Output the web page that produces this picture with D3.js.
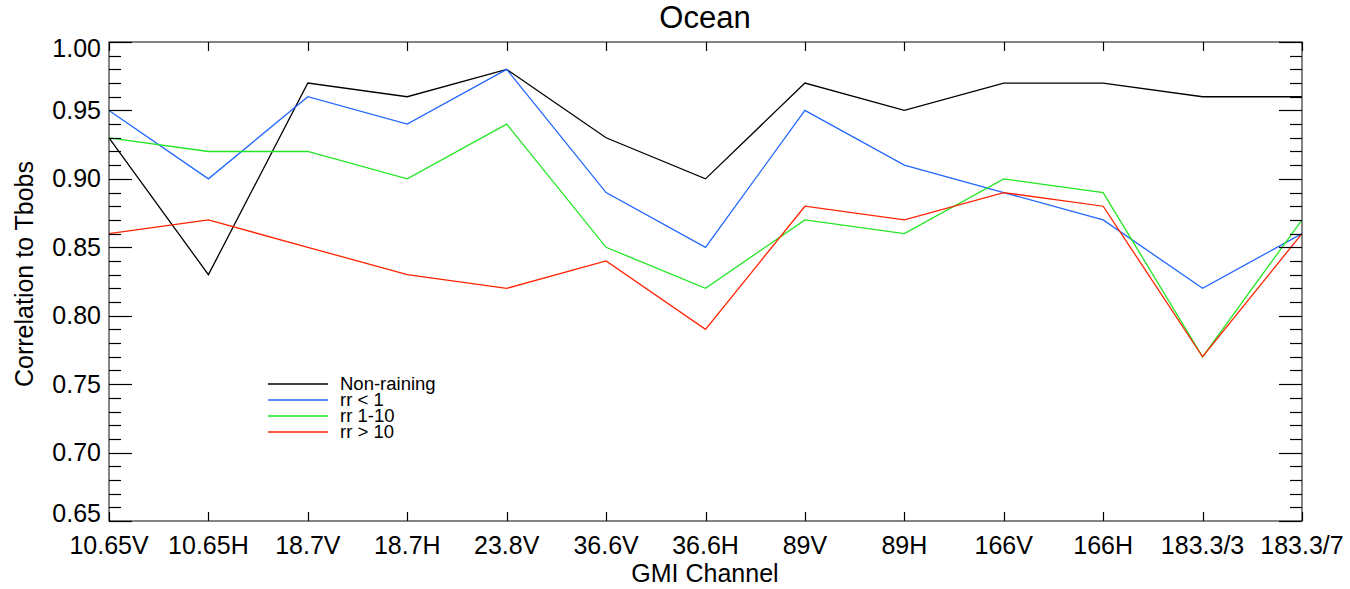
<!DOCTYPE html>
<html><head><meta charset="utf-8">
<script src="https://cdn.jsdelivr.net/npm/d3@7"></script>
<style>body{margin:0;background:#fff}svg{display:block}text{font-family:"Liberation Sans",Arial,sans-serif;fill:#000}</style>
</head><body><svg id="c" width="1350" height="589"></svg>
<script>
const categories = ["10.65V","10.65H","18.7V","18.7H","23.8V","36.6V","36.6H","89V","89H","166V","166H","183.3/3","183.3/7"];
const nonRaining = [0.93,0.83,0.97,0.96,0.98,0.93,0.90,0.97,0.95,0.97,0.97,0.96,0.96];
const rrLt1      = [0.95,0.90,0.96,0.94,0.98,0.89,0.85,0.95,0.91,0.89,0.87,0.82,0.86];
const rr1to10    = [0.93,0.92,0.92,0.90,0.94,0.85,0.82,0.87,0.86,0.90,0.89,0.77,0.87];
const rrGt10     = [0.86,0.87,0.85,0.83,0.82,0.84,0.79,0.88,0.87,0.89,0.88,0.77,0.86];
const seriesNames = ["Non-raining","rr < 1","rr 1-10","rr > 10"];
const seriesColors = ["#000000","#2266ff","#22e622","#ff2200"];
const yTicks = [0.65,0.70,0.75,0.80,0.85,0.90,0.95,1.00];
const yMinor = d3.range(65,101).map(v=>v/100);

const svg = d3.select("#c");
const L=109, R=1302, T=42, B=521;
const x = d3.scaleLinear().domain([0,categories.length-1]).range([L,R]);
const y = d3.scaleLinear().domain([0.65,1.00]).range([B,T]);

const allSeries = [nonRaining, rrLt1, rr1to10, rrGt10];
const line = d3.line().x((d,i)=>x(i)).y(d=>y(d));
const g = svg.append("g");
allSeries.forEach((s,k)=>{
  g.append("path").datum(s).attr("d",line).attr("fill","none")
   .attr("stroke",seriesColors[k]).attr("stroke-width",1.3);
});

// frame
svg.append("rect").attr("x",L).attr("y",T).attr("width",R-L).attr("height",B-T)
  .attr("fill","none").attr("stroke","#333").attr("stroke-width",1.2);

// ticks
const ax = svg.append("g").attr("stroke","#000").attr("stroke-width",1.2);
yMinor.forEach(v=>{
  const major = yTicks.some(t=>Math.abs(t-v)<1e-9);
  const len = major?23:12;
  const yy = Math.round(y(v))+0.5;
  ax.append("line").attr("x1",L).attr("x2",L+len).attr("y1",yy).attr("y2",yy);
  ax.append("line").attr("x1",R).attr("x2",R-len).attr("y1",yy).attr("y2",yy);
});
categories.forEach((c,i)=>{
  const xx = Math.round(x(i))+0.5;
  ax.append("line").attr("x1",xx).attr("x2",xx).attr("y1",B).attr("y2",B-9);
  ax.append("line").attr("x1",xx).attr("x2",xx).attr("y1",T).attr("y2",T+9);
});

// y tick labels
yTicks.forEach(v=>{
  let yy = y(v);
  if (v===1.00) yy += 6.5;
  if (Math.abs(v-0.65)<1e-9) yy -= 7.5;
  svg.append("text").attr("x",101).attr("y",yy+8.5).attr("text-anchor","end")
    .attr("font-size",25).text(d3.format(".2f")(v));
});
// x tick labels
categories.forEach((c,i)=>{
  svg.append("text").attr("x",x(i)).attr("y",554).attr("text-anchor","middle")
    .attr("font-size",25).text(c);
});

svg.append("text").attr("x",705).attr("y",28).attr("text-anchor","middle").attr("font-size",31).text("Ocean");
svg.append("text").attr("x",705).attr("y",582).attr("text-anchor","middle").attr("font-size",25).text("GMI Channel");
svg.append("text").attr("transform","translate(33,274) rotate(-90)").attr("text-anchor","middle").attr("font-size",25).text("Correlation to Tbobs");

// legend
seriesNames.forEach((n,k)=>{
  const ly = 384 + k*16;
  svg.append("line").attr("x1",268).attr("x2",328).attr("y1",ly).attr("y2",ly)
    .attr("stroke",seriesColors[k]).attr("stroke-width",1.3);
  svg.append("text").attr("x",340).attr("y",ly+6).attr("font-size",18.5).text(n);
});
</script></body></html>
